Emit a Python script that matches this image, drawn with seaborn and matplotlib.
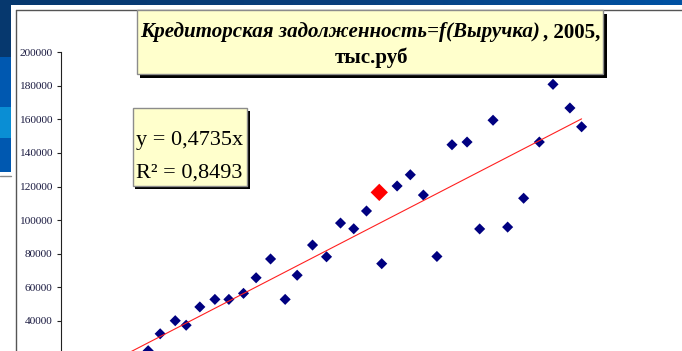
import matplotlib
matplotlib.use("Agg")
import numpy as np
import pandas as pd
import seaborn as sns
import matplotlib.pyplot as plt
from matplotlib.patches import Rectangle
from matplotlib.lines import Line2D

# ---- data ----
revenue = [56700, 64500, 74300, 81400, 90300, 100100, 109200, 118700, 126900,
           136300, 145800, 153600, 163600, 172700, 181800, 190400, 198700,
           208600, 218600, 227200, 235700, 244500, 254300, 264100, 272300,
           281000, 290500, 300900, 311100, 320000, 331000, 338600]
payables = [22100, 32200, 40000, 37300, 48200, 52700, 52700, 56300, 65600,
            76800, 52700, 67100, 85100, 78100, 98200, 94800, 105400,
            74000, 120300, 127000, 114900, 78300, 144900, 146500, 94700,
            159500, 95800, 113000, 146500, 180900, 166800, 155600]
highlight_revenue = [207000]
highlight_payables = [116500]
slope = 0.4735
r_squared = 0.8493
y_ticks = [20000, 40000, 60000, 80000, 100000, 120000, 140000, 160000, 180000, 200000]
title_italic = "Кредиторская задолженность=f(Выручка)"
title_tail = ", 2005,"
title_line2 = "тыс.руб"
eq_line1 = "y = 0,4735x"
eq_line2 = "R² = 0,8493"

sns.set_style("white")
plt.rcParams["font.family"] = ["Liberation Serif", "DejaVu Serif"]

W, H = 682, 351
fig = plt.figure(figsize=(W / 100, H / 100), dpi=100)
fig.patch.set_facecolor("white")


def fx(px):
    return px / W


def fy(py):
    return 1 - py / H


# ---- axes: x=0 at px 61, y=0 at py 387.8 (below the visible crop) ----
ax = fig.add_axes([fx(61), fy(387.8), 615 / W, (387.8 - 52.3) / H])
ax.set_facecolor("none")

df = pd.DataFrame({"revenue": revenue, "payables": payables})
sns.scatterplot(data=df, x="revenue", y="payables", marker="D", color="#000080",
                s=32, edgecolor="none", linewidth=0, ax=ax, zorder=3)
sns.scatterplot(x=highlight_revenue, y=highlight_payables, marker="D", color="#FF0000",
                s=78, edgecolor="none", linewidth=0, ax=ax, zorder=4)
trend_x = np.array([0, max(revenue)])
sns.lineplot(x=trend_x, y=slope * trend_x, color="#FF2020", linewidth=0.8, ax=ax, zorder=5)

ax.set_xlim(0, 400000)
ax.set_ylim(0, 200000)
ax.set_xticks([])
ax.set_yticks(y_ticks)
ax.set_yticklabels([str(v) for v in y_ticks])
ax.set_xlabel("")
ax.set_ylabel("")
for side in ["top", "right"]:
    ax.spines[side].set_visible(False)
ax.spines["left"].set_color("#222222")
ax.spines["left"].set_linewidth(0.8)
ax.spines["bottom"].set_color("#222222")
ax.tick_params(axis="y", direction="out", length=3.2, width=0.8, color="#222222",
               labelsize=8.2, labelcolor="#1a1a40", pad=3, left=True)

# ---- slide decorations ----
grad = np.linspace(0, 1, 256).reshape(1, -1)
band = fig.add_axes([0, fy(5), 1, 5 / H])
band.imshow(grad, aspect="auto", cmap=matplotlib.colors.LinearSegmentedColormap.from_list(
    "b", ["#06386e", "#0a3f7c", "#0052a3"]))
band.set_axis_off()

for (y0, y1, c) in [(0, 57, "#06386e"), (57, 107, "#0058b0"), (107, 138, "#0a8ed4"), (138, 172, "#0058b0")]:
    fig.add_artist(Rectangle((0, fy(y1)), fx(11), (y1 - y0) / H, transform=fig.transFigure,
                             facecolor=c, edgecolor="none", zorder=1))
fig.add_artist(Line2D([0, fx(11)], [fy(175.5), fy(175.5)], transform=fig.transFigure,
                      color="#8a8a8a", lw=1, zorder=1))
# chart area frame
fig.add_artist(Line2D([fx(16), 1], [fy(10), fy(10)], transform=fig.transFigure,
                      color="#555555", lw=1, zorder=1))
fig.add_artist(Line2D([fx(16), fx(16)], [fy(10), 0], transform=fig.transFigure,
                      color="#555555", lw=1, zorder=1))

# ---- title box ----
tx0, ty0, tx1, ty1 = 136.7, 10, 603, 74
fig.add_artist(Rectangle((fx(tx0 + 3.5), fy(ty1 + 3.5)), (tx1 - tx0) / W, (ty1 - ty0) / H,
                         transform=fig.transFigure, facecolor="black", edgecolor="none", zorder=6))
fig.add_artist(Rectangle((fx(tx0), fy(ty1)), (tx1 - tx0) / W, (ty1 - ty0) / H,
                         transform=fig.transFigure, facecolor="#FFFFCC", edgecolor="#8c8c8c",
                         lw=1, zorder=7))
fig.text(fx(540), fy(37.5), title_italic, ha="right", va="baseline", fontsize=15.1,
         fontweight="bold", fontstyle="italic", color="black", zorder=8)
fig.text(fx(543), fy(37.5), title_tail, ha="left", va="baseline", fontsize=15.1,
         fontweight="bold", color="black", zorder=8)
fig.text(fx(371), fy(62.5), title_line2, ha="center", va="baseline", fontsize=15.1,
         fontweight="bold", color="black", zorder=8)

# ---- equation box ----
ex0, ey0, ex1, ey1 = 132.7, 108, 247.3, 186
fig.add_artist(Rectangle((fx(ex0 + 2.5), fy(ey1 + 3)), (ex1 - ex0) / W, (ey1 - ey0) / H,
                         transform=fig.transFigure, facecolor="black", edgecolor="none", zorder=6))
fig.add_artist(Rectangle((fx(ex0), fy(ey1)), (ex1 - ex0) / W, (ey1 - ey0) / H,
                         transform=fig.transFigure, facecolor="#FFFFCC", edgecolor="#8c8c8c",
                         lw=1, zorder=7))
fig.text(fx(136.5), fy(145), eq_line1, ha="left", va="baseline", fontsize=16,
         color="black", zorder=8)
fig.text(fx(136.5), fy(177.5), eq_line2, ha="left", va="baseline", fontsize=16,
         color="black", zorder=8)

fig.savefig("out.png", dpi=100)
